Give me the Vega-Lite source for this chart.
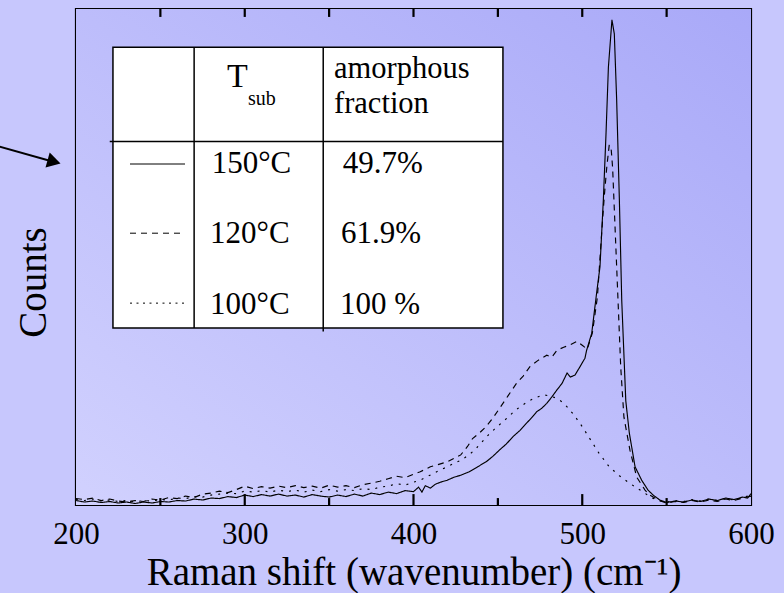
{
 "$schema": "https://vega.github.io/schema/vega-lite/v6.json",
 "width": 675,
 "height": 496,
 "autosize": {"type": "none"},
 "padding": {"left": 76, "top": 9, "right": 33, "bottom": 88},
 "background": "#c7c7fd",
 "view": {"stroke": "#000000", "strokeWidth": 2.2},
 "config": {"font": "Liberation Serif"},
 "datasets": {
  "one": [{}],
  "majorTicks": [{"at": 300}, {"at": 400}, {"at": 500}],
  "minorTicks": [{"at": 250}, {"at": 350}, {"at": 450}, {"at": 550}],
  "topTicks": [{"at": 250}, {"at": 300}, {"at": 350}, {"at": 400}, {"at": 450}, {"at": 500}, {"at": 550}],
  "spectra": [
   {"shift":200,"counts":0.9,"Tsub":"150°C"},{"shift":205,"counts":0.6,"Tsub":"150°C"},{"shift":210,"counts":0.8,"Tsub":"150°C"},{"shift":215,"counts":0.5,"Tsub":"150°C"},{"shift":220,"counts":0.7,"Tsub":"150°C"},{"shift":225,"counts":0.4,"Tsub":"150°C"},{"shift":230,"counts":0.6,"Tsub":"150°C"},{"shift":235,"counts":0.3,"Tsub":"150°C"},{"shift":240,"counts":0.6,"Tsub":"150°C"},{"shift":245,"counts":0.4,"Tsub":"150°C"},{"shift":250,"counts":0.7,"Tsub":"150°C"},{"shift":255,"counts":0.6,"Tsub":"150°C"},{"shift":260,"counts":0.9,"Tsub":"150°C"},{"shift":265,"counts":0.8,"Tsub":"150°C"},{"shift":270,"counts":1.2,"Tsub":"150°C"},{"shift":275,"counts":1.0,"Tsub":"150°C"},{"shift":280,"counts":1.4,"Tsub":"150°C"},{"shift":285,"counts":1.3,"Tsub":"150°C"},{"shift":290,"counts":1.7,"Tsub":"150°C"},{"shift":295,"counts":1.5,"Tsub":"150°C"},{"shift":300,"counts":2.0,"Tsub":"150°C"},{"shift":305,"counts":1.7,"Tsub":"150°C"},{"shift":310,"counts":2.1,"Tsub":"150°C"},{"shift":315,"counts":1.8,"Tsub":"150°C"},{"shift":320,"counts":2.2,"Tsub":"150°C"},{"shift":325,"counts":1.8,"Tsub":"150°C"},{"shift":330,"counts":2.0,"Tsub":"150°C"},{"shift":335,"counts":1.6,"Tsub":"150°C"},{"shift":340,"counts":2.1,"Tsub":"150°C"},{"shift":345,"counts":1.8,"Tsub":"150°C"},{"shift":350,"counts":1.6,"Tsub":"150°C"},{"shift":355,"counts":2.0,"Tsub":"150°C"},{"shift":360,"counts":1.7,"Tsub":"150°C"},{"shift":365,"counts":2.2,"Tsub":"150°C"},{"shift":370,"counts":1.8,"Tsub":"150°C"},{"shift":375,"counts":2.4,"Tsub":"150°C"},{"shift":380,"counts":2.1,"Tsub":"150°C"},{"shift":385,"counts":2.6,"Tsub":"150°C"},{"shift":390,"counts":2.3,"Tsub":"150°C"},{"shift":395,"counts":2.9,"Tsub":"150°C"},{"shift":400,"counts":2.7,"Tsub":"150°C"},{"shift":403,"counts":3.6,"Tsub":"150°C"},{"shift":405,"counts":2.6,"Tsub":"150°C"},{"shift":407,"counts":3.9,"Tsub":"150°C"},{"shift":410,"counts":3.4,"Tsub":"150°C"},{"shift":413,"counts":4.2,"Tsub":"150°C"},{"shift":416,"counts":4.6,"Tsub":"150°C"},{"shift":420,"counts":5.0,"Tsub":"150°C"},{"shift":424,"counts":5.6,"Tsub":"150°C"},{"shift":428,"counts":6.0,"Tsub":"150°C"},{"shift":433,"counts":6.7,"Tsub":"150°C"},{"shift":438,"counts":7.7,"Tsub":"150°C"},{"shift":443,"counts":8.7,"Tsub":"150°C"},{"shift":447,"counts":9.8,"Tsub":"150°C"},{"shift":451,"counts":11.1,"Tsub":"150°C"},{"shift":455,"counts":12.3,"Tsub":"150°C"},{"shift":459,"counts":13.8,"Tsub":"150°C"},{"shift":463,"counts":15.0,"Tsub":"150°C"},{"shift":467,"counts":16.5,"Tsub":"150°C"},{"shift":470,"counts":17.6,"Tsub":"150°C"},{"shift":473,"counts":18.8,"Tsub":"150°C"},{"shift":476,"counts":19.5,"Tsub":"150°C"},{"shift":479,"counts":20.5,"Tsub":"150°C"},{"shift":482,"counts":21.8,"Tsub":"150°C"},{"shift":485,"counts":23.2,"Tsub":"150°C"},{"shift":488,"counts":24.5,"Tsub":"150°C"},{"shift":491,"counts":26.6,"Tsub":"150°C"},{"shift":493,"counts":25.8,"Tsub":"150°C"},{"shift":495.7,"counts":26.2,"Tsub":"150°C"},{"shift":498.7,"counts":27.9,"Tsub":"150°C"},{"shift":501.6,"counts":29.6,"Tsub":"150°C"},{"shift":502.6,"counts":31.2,"Tsub":"150°C"},{"shift":505.6,"counts":34.6,"Tsub":"150°C"},{"shift":508.5,"counts":42.7,"Tsub":"150°C"},{"shift":510.5,"counts":48,"Tsub":"150°C"},{"shift":512.5,"counts":61.5,"Tsub":"150°C"},{"shift":514.1,"counts":75,"Tsub":"150°C"},{"shift":515.5,"counts":88.3,"Tsub":"150°C"},{"shift":517.6,"counts":97.8,"Tsub":"150°C"},{"shift":519,"counts":95,"Tsub":"150°C"},{"shift":520.4,"counts":81.6,"Tsub":"150°C"},{"shift":522,"counts":61.5,"Tsub":"150°C"},{"shift":523.4,"counts":41.3,"Tsub":"150°C"},{"shift":525.8,"counts":21,"Tsub":"150°C"},{"shift":527.9,"counts":14.5,"Tsub":"150°C"},{"shift":531.3,"counts":7.7,"Tsub":"150°C"},{"shift":535.2,"counts":5,"Tsub":"150°C"},{"shift":539,"counts":3,"Tsub":"150°C"},{"shift":542,"counts":2.0,"Tsub":"150°C"},{"shift":546,"counts":1.0,"Tsub":"150°C"},{"shift":550,"counts":0.5,"Tsub":"150°C"},{"shift":555,"counts":0.8,"Tsub":"150°C"},{"shift":560,"counts":0.6,"Tsub":"150°C"},{"shift":565,"counts":1.0,"Tsub":"150°C"},{"shift":570,"counts":0.7,"Tsub":"150°C"},{"shift":575,"counts":1.2,"Tsub":"150°C"},{"shift":580,"counts":0.9,"Tsub":"150°C"},{"shift":585,"counts":1.4,"Tsub":"150°C"},{"shift":590,"counts":1.1,"Tsub":"150°C"},{"shift":595,"counts":1.6,"Tsub":"150°C"},{"shift":598,"counts":1.4,"Tsub":"150°C"},{"shift":600,"counts":2.3,"Tsub":"150°C"},

   {"shift":200,"counts":1.3,"Tsub":"120°C"},{"shift":205,"counts":1.1,"Tsub":"120°C"},{"shift":210,"counts":1.4,"Tsub":"120°C"},{"shift":215,"counts":0.9,"Tsub":"120°C"},{"shift":220,"counts":1.2,"Tsub":"120°C"},{"shift":225,"counts":0.8,"Tsub":"120°C"},{"shift":230,"counts":0.6,"Tsub":"120°C"},{"shift":235,"counts":0.9,"Tsub":"120°C"},{"shift":240,"counts":0.7,"Tsub":"120°C"},{"shift":245,"counts":1.2,"Tsub":"120°C"},{"shift":250,"counts":1.0,"Tsub":"120°C"},{"shift":255,"counts":1.5,"Tsub":"120°C"},{"shift":260,"counts":1.3,"Tsub":"120°C"},{"shift":265,"counts":1.8,"Tsub":"120°C"},{"shift":270,"counts":1.5,"Tsub":"120°C"},{"shift":275,"counts":2.2,"Tsub":"120°C"},{"shift":280,"counts":2.4,"Tsub":"120°C"},{"shift":285,"counts":2.8,"Tsub":"120°C"},{"shift":290,"counts":2.5,"Tsub":"120°C"},{"shift":295,"counts":3.1,"Tsub":"120°C"},{"shift":300,"counts":3.8,"Tsub":"120°C"},{"shift":305,"counts":3.3,"Tsub":"120°C"},{"shift":310,"counts":3.7,"Tsub":"120°C"},{"shift":315,"counts":3.4,"Tsub":"120°C"},{"shift":320,"counts":3.8,"Tsub":"120°C"},{"shift":325,"counts":3.5,"Tsub":"120°C"},{"shift":330,"counts":3.9,"Tsub":"120°C"},{"shift":335,"counts":3.5,"Tsub":"120°C"},{"shift":340,"counts":3.8,"Tsub":"120°C"},{"shift":345,"counts":3.4,"Tsub":"120°C"},{"shift":350,"counts":4.0,"Tsub":"120°C"},{"shift":355,"counts":3.6,"Tsub":"120°C"},{"shift":360,"counts":3.9,"Tsub":"120°C"},{"shift":365,"counts":3.5,"Tsub":"120°C"},{"shift":370,"counts":4.1,"Tsub":"120°C"},{"shift":375,"counts":4.4,"Tsub":"120°C"},{"shift":380,"counts":4.8,"Tsub":"120°C"},{"shift":385,"counts":5.3,"Tsub":"120°C"},{"shift":390,"counts":5.8,"Tsub":"120°C"},{"shift":395,"counts":5.5,"Tsub":"120°C"},{"shift":400,"counts":6.2,"Tsub":"120°C"},{"shift":404,"counts":6.7,"Tsub":"120°C"},{"shift":410,"counts":7.7,"Tsub":"120°C"},{"shift":415,"counts":8.2,"Tsub":"120°C"},{"shift":420,"counts":8.7,"Tsub":"120°C"},{"shift":424,"counts":9.4,"Tsub":"120°C"},{"shift":428,"counts":10.1,"Tsub":"120°C"},{"shift":432,"counts":11.8,"Tsub":"120°C"},{"shift":435,"counts":13.4,"Tsub":"120°C"},{"shift":439,"counts":14.5,"Tsub":"120°C"},{"shift":443,"counts":15.8,"Tsub":"120°C"},{"shift":447,"counts":17.5,"Tsub":"120°C"},{"shift":451,"counts":19.5,"Tsub":"120°C"},{"shift":456,"counts":22.0,"Tsub":"120°C"},{"shift":461,"counts":24.5,"Tsub":"120°C"},{"shift":465,"counts":26.0,"Tsub":"120°C"},{"shift":469,"counts":27.9,"Tsub":"120°C"},{"shift":474,"counts":29.2,"Tsub":"120°C"},{"shift":479,"counts":30.2,"Tsub":"120°C"},{"shift":482,"counts":29.8,"Tsub":"120°C"},{"shift":485,"counts":31.2,"Tsub":"120°C"},{"shift":489,"counts":31.8,"Tsub":"120°C"},{"shift":493,"counts":32.3,"Tsub":"120°C"},{"shift":497,"counts":33.0,"Tsub":"120°C"},{"shift":500,"counts":32.2,"Tsub":"120°C"},{"shift":503,"counts":31.4,"Tsub":"120°C"},{"shift":506,"counts":34.7,"Tsub":"120°C"},{"shift":509,"counts":42.0,"Tsub":"120°C"},{"shift":511.5,"counts":54.8,"Tsub":"120°C"},{"shift":513,"counts":62,"Tsub":"120°C"},{"shift":514.5,"counts":68,"Tsub":"120°C"},{"shift":516,"counts":72.6,"Tsub":"120°C"},{"shift":517.2,"counts":71.5,"Tsub":"120°C"},{"shift":518,"counts":68,"Tsub":"120°C"},{"shift":520.4,"counts":48,"Tsub":"120°C"},{"shift":522.8,"counts":27.8,"Tsub":"120°C"},{"shift":524.7,"counts":17.7,"Tsub":"120°C"},{"shift":528.3,"counts":11,"Tsub":"120°C"},{"shift":532.3,"counts":5.6,"Tsub":"120°C"},{"shift":537.2,"counts":3,"Tsub":"120°C"},{"shift":540,"counts":2.0,"Tsub":"120°C"},{"shift":545,"counts":1.0,"Tsub":"120°C"},{"shift":550,"counts":0.4,"Tsub":"120°C"},{"shift":555,"counts":0.7,"Tsub":"120°C"},{"shift":560,"counts":0.5,"Tsub":"120°C"},{"shift":565,"counts":0.9,"Tsub":"120°C"},{"shift":570,"counts":0.6,"Tsub":"120°C"},{"shift":575,"counts":1.0,"Tsub":"120°C"},{"shift":580,"counts":0.7,"Tsub":"120°C"},{"shift":585,"counts":1.2,"Tsub":"120°C"},{"shift":590,"counts":0.9,"Tsub":"120°C"},{"shift":595,"counts":1.4,"Tsub":"120°C"},{"shift":600,"counts":1.8,"Tsub":"120°C"},

   {"shift":200,"counts":1.1,"Tsub":"100°C"},{"shift":205,"counts":0.9,"Tsub":"100°C"},{"shift":210,"counts":1.2,"Tsub":"100°C"},{"shift":215,"counts":0.8,"Tsub":"100°C"},{"shift":220,"counts":1.0,"Tsub":"100°C"},{"shift":225,"counts":0.7,"Tsub":"100°C"},{"shift":230,"counts":0.9,"Tsub":"100°C"},{"shift":235,"counts":0.6,"Tsub":"100°C"},{"shift":240,"counts":0.9,"Tsub":"100°C"},{"shift":245,"counts":0.8,"Tsub":"100°C"},{"shift":250,"counts":1.1,"Tsub":"100°C"},{"shift":255,"counts":1.0,"Tsub":"100°C"},{"shift":260,"counts":1.4,"Tsub":"100°C"},{"shift":265,"counts":1.3,"Tsub":"100°C"},{"shift":270,"counts":1.7,"Tsub":"100°C"},{"shift":275,"counts":1.6,"Tsub":"100°C"},{"shift":280,"counts":2.0,"Tsub":"100°C"},{"shift":285,"counts":2.2,"Tsub":"100°C"},{"shift":290,"counts":2.4,"Tsub":"100°C"},{"shift":295,"counts":2.3,"Tsub":"100°C"},{"shift":300,"counts":2.8,"Tsub":"100°C"},{"shift":305,"counts":2.6,"Tsub":"100°C"},{"shift":310,"counts":2.9,"Tsub":"100°C"},{"shift":315,"counts":2.6,"Tsub":"100°C"},{"shift":320,"counts":3.0,"Tsub":"100°C"},{"shift":325,"counts":2.7,"Tsub":"100°C"},{"shift":330,"counts":3.0,"Tsub":"100°C"},{"shift":335,"counts":2.6,"Tsub":"100°C"},{"shift":340,"counts":3.0,"Tsub":"100°C"},{"shift":345,"counts":2.7,"Tsub":"100°C"},{"shift":350,"counts":3.1,"Tsub":"100°C"},{"shift":355,"counts":2.8,"Tsub":"100°C"},{"shift":360,"counts":3.1,"Tsub":"100°C"},{"shift":365,"counts":2.9,"Tsub":"100°C"},{"shift":370,"counts":3.3,"Tsub":"100°C"},{"shift":375,"counts":3.1,"Tsub":"100°C"},{"shift":380,"counts":3.6,"Tsub":"100°C"},{"shift":385,"counts":3.8,"Tsub":"100°C"},{"shift":390,"counts":4.3,"Tsub":"100°C"},{"shift":395,"counts":4.0,"Tsub":"100°C"},{"shift":400,"counts":4.6,"Tsub":"100°C"},{"shift":404,"counts":5.0,"Tsub":"100°C"},{"shift":408,"counts":5.7,"Tsub":"100°C"},{"shift":412,"counts":6.4,"Tsub":"100°C"},{"shift":416,"counts":7.1,"Tsub":"100°C"},{"shift":420,"counts":7.7,"Tsub":"100°C"},{"shift":424,"counts":8.4,"Tsub":"100°C"},{"shift":428,"counts":9.0,"Tsub":"100°C"},{"shift":432,"counts":9.9,"Tsub":"100°C"},{"shift":436,"counts":11.0,"Tsub":"100°C"},{"shift":440,"counts":12.5,"Tsub":"100°C"},{"shift":444,"counts":14.0,"Tsub":"100°C"},{"shift":448,"counts":15.3,"Tsub":"100°C"},{"shift":452,"counts":16.5,"Tsub":"100°C"},{"shift":456,"counts":17.7,"Tsub":"100°C"},{"shift":460,"counts":19.0,"Tsub":"100°C"},{"shift":464,"counts":20.0,"Tsub":"100°C"},{"shift":468,"counts":20.9,"Tsub":"100°C"},{"shift":472,"counts":21.6,"Tsub":"100°C"},{"shift":477,"counts":22.2,"Tsub":"100°C"},{"shift":481,"counts":22.0,"Tsub":"100°C"},{"shift":485,"counts":21.5,"Tsub":"100°C"},{"shift":488,"counts":20.8,"Tsub":"100°C"},{"shift":491,"counts":19.8,"Tsub":"100°C"},{"shift":495,"counts":18.2,"Tsub":"100°C"},{"shift":500,"counts":15.8,"Tsub":"100°C"},{"shift":505,"counts":13.1,"Tsub":"100°C"},{"shift":510,"counts":10.4,"Tsub":"100°C"},{"shift":516,"counts":7.7,"Tsub":"100°C"},{"shift":522,"counts":5.9,"Tsub":"100°C"},{"shift":528,"counts":4.4,"Tsub":"100°C"},{"shift":533,"counts":3.3,"Tsub":"100°C"},{"shift":537,"counts":2.4,"Tsub":"100°C"},{"shift":541,"counts":1.5,"Tsub":"100°C"},{"shift":545,"counts":0.9,"Tsub":"100°C"},{"shift":550,"counts":0.6,"Tsub":"100°C"},{"shift":555,"counts":0.9,"Tsub":"100°C"},{"shift":560,"counts":0.7,"Tsub":"100°C"},{"shift":565,"counts":1.1,"Tsub":"100°C"},{"shift":570,"counts":0.8,"Tsub":"100°C"},{"shift":575,"counts":1.2,"Tsub":"100°C"},{"shift":580,"counts":0.9,"Tsub":"100°C"},{"shift":585,"counts":1.3,"Tsub":"100°C"},{"shift":590,"counts":1.0,"Tsub":"100°C"},{"shift":595,"counts":1.5,"Tsub":"100°C"},{"shift":600,"counts":2.0,"Tsub":"100°C"}
  ]
 },
 "layer": [
  {
   "data": {"name": "one"},
   "mark": {"type": "rect", "fill": {"gradient": "linear", "x1": 1, "y1": 0, "x2": 0, "y2": 1, "stops": [{"offset": 0, "color": "#a9a9f8"}, {"offset": 1, "color": "#d1d1fe"}]}},
   "encoding": {
    "x": {"datum": 200, "type": "quantitative", "scale": {"domain": [200, 600], "nice": false, "zero": false},
     "axis": {"orient": "bottom", "values": [200, 300, 400, 500, 600], "grid": false, "ticks": false, "domain": false,
      "labelFont": "Liberation Serif", "labelFontSize": 31, "labelColor": "#000000", "labelPadding": 14, "labelFlush": false,
      "title": "Raman shift (wavenumber) (cm⁻¹)", "titleFont": "Liberation Serif", "titleFontSize": 39, "titleFontWeight": "normal", "titleColor": "#000000", "titleBaseline": "alphabetic", "titleY": 79}},
    "x2": {"datum": 600},
    "y": {"datum": 0, "type": "quantitative", "scale": {"domain": [0, 100], "nice": false},
     "axis": {"title": "Counts", "grid": false, "ticks": false, "labels": false, "domain": false, "titleFont": "Liberation Serif", "titleFontSize": 39, "titleFontWeight": "normal", "titleColor": "#000000", "titleX": -43, "titleY": 273, "titleAngle": -90, "titleAlign": "center", "titleBaseline": "middle"}},
    "y2": {"datum": 100}
   }
  },
  {
   "data": {"name": "spectra"},
   "mark": {"type": "line", "color": "#000000", "strokeWidth": 1.15},
   "encoding": {
    "x": {"field": "shift", "type": "quantitative"},
    "y": {"field": "counts", "type": "quantitative"},
    "strokeDash": {"field": "Tsub", "type": "nominal", "scale": {"domain": ["150°C", "120°C", "100°C"], "range": [[1, 0], [6, 5], [2, 6]]}, "legend": null}
   }
  },
  {"data": {"name": "majorTicks"}, "mark": {"type": "rule", "color": "#000000", "strokeWidth": 2.2}, "encoding": {"x": {"field": "at", "type": "quantitative"}, "y": {"datum": 0, "type": "quantitative"}, "y2": {"datum": 2.2}}},
  {"data": {"name": "minorTicks"}, "mark": {"type": "rule", "color": "#000000", "strokeWidth": 2.2}, "encoding": {"x": {"field": "at", "type": "quantitative"}, "y": {"datum": 0, "type": "quantitative"}, "y2": {"datum": 1.4}}},
  {"data": {"name": "topTicks"}, "mark": {"type": "rule", "color": "#000000", "strokeWidth": 2.2}, "encoding": {"x": {"field": "at", "type": "quantitative"}, "y": {"datum": 100, "type": "quantitative"}, "y2": {"datum": 98.4}}},
  {
   "data": {"name": "one"},
   "mark": {"type": "rect", "fill": "#ffffff", "stroke": "#000000", "strokeWidth": 1.5},
   "encoding": {
    "x": {"datum": 221.9, "type": "quantitative"},
    "x2": {"datum": 453},
    "y": {"datum": 35.7, "type": "quantitative"},
    "y2": {"datum": 92.3}
   }
  },
  {"data": {"name": "one"}, "mark": {"type": "rule", "color": "#000000", "strokeWidth": 1.5}, "encoding": {"x": {"datum": 270, "type": "quantitative"}, "y": {"datum": 35.7, "type": "quantitative"}, "y2": {"datum": 92.3}}},
  {"data": {"name": "one"}, "mark": {"type": "rule", "color": "#000000", "strokeWidth": 1.5}, "encoding": {"x": {"datum": 346.5, "type": "quantitative"}, "y": {"datum": 35.0, "type": "quantitative"}, "y2": {"datum": 92.3}}},
  {"data": {"name": "one"}, "mark": {"type": "rule", "color": "#000000", "strokeWidth": 1.5}, "encoding": {"x": {"datum": 220, "type": "quantitative"}, "x2": {"datum": 453}, "y": {"datum": 73.3, "type": "quantitative"}}},
  {"data": {"name": "one"}, "mark": {"type": "rule", "color": "#000000", "strokeWidth": 1}, "encoding": {"x": {"datum": 232, "type": "quantitative"}, "x2": {"datum": 264.6}, "y": {"datum": 68.75, "type": "quantitative"}}},
  {"data": {"name": "one"}, "mark": {"type": "rule", "color": "#000000", "strokeWidth": 1, "strokeDash": [6, 5]}, "encoding": {"x": {"datum": 232, "type": "quantitative"}, "x2": {"datum": 264.6}, "y": {"datum": 54.8, "type": "quantitative"}}},
  {"data": {"name": "one"}, "mark": {"type": "rule", "color": "#000000", "strokeWidth": 1, "strokeDash": [2, 4.5]}, "encoding": {"x": {"datum": 232, "type": "quantitative"}, "x2": {"datum": 264.6}, "y": {"datum": 40.7, "type": "quantitative"}}},
  {"data": {"name": "one"}, "mark": {"type": "text", "font": "Liberation Serif", "fontSize": 34, "align": "center", "baseline": "alphabetic", "color": "#000000", "text": "T"}, "encoding": {"x": {"datum": 295.7, "type": "quantitative"}, "y": {"datum": 84.3, "type": "quantitative"}}},
  {"data": {"name": "one"}, "mark": {"type": "text", "font": "Liberation Serif", "fontSize": 20, "align": "center", "baseline": "alphabetic", "color": "#000000", "text": "sub"}, "encoding": {"x": {"datum": 310.2, "type": "quantitative"}, "y": {"datum": 80.6, "type": "quantitative"}}},
  {"data": {"name": "one"}, "mark": {"type": "text", "font": "Liberation Serif", "fontSize": 30.5, "align": "left", "baseline": "alphabetic", "color": "#000000", "text": "amorphous"}, "encoding": {"x": {"datum": 352.9, "type": "quantitative"}, "y": {"datum": 86.1, "type": "quantitative"}}},
  {"data": {"name": "one"}, "mark": {"type": "text", "font": "Liberation Serif", "fontSize": 30.5, "align": "left", "baseline": "alphabetic", "color": "#000000", "text": "fraction"}, "encoding": {"x": {"datum": 352.9, "type": "quantitative"}, "y": {"datum": 79, "type": "quantitative"}}},
  {"data": {"name": "one"}, "mark": {"type": "text", "font": "Liberation Serif", "fontSize": 31, "align": "left", "baseline": "alphabetic", "color": "#000000", "text": "150°C"}, "encoding": {"x": {"datum": 280.4, "type": "quantitative"}, "y": {"datum": 66.9, "type": "quantitative"}}},
  {"data": {"name": "one"}, "mark": {"type": "text", "font": "Liberation Serif", "fontSize": 31, "align": "left", "baseline": "alphabetic", "color": "#000000", "text": "120°C"}, "encoding": {"x": {"datum": 279.4, "type": "quantitative"}, "y": {"datum": 52.8, "type": "quantitative"}}},
  {"data": {"name": "one"}, "mark": {"type": "text", "font": "Liberation Serif", "fontSize": 31, "align": "left", "baseline": "alphabetic", "color": "#000000", "text": "100°C"}, "encoding": {"x": {"datum": 279.4, "type": "quantitative"}, "y": {"datum": 38.6, "type": "quantitative"}}},
  {"data": {"name": "one"}, "mark": {"type": "text", "font": "Liberation Serif", "fontSize": 31, "align": "left", "baseline": "alphabetic", "color": "#000000", "text": "49.7%"}, "encoding": {"x": {"datum": 358, "type": "quantitative"}, "y": {"datum": 66.9, "type": "quantitative"}}},
  {"data": {"name": "one"}, "mark": {"type": "text", "font": "Liberation Serif", "fontSize": 31, "align": "left", "baseline": "alphabetic", "color": "#000000", "text": "61.9%"}, "encoding": {"x": {"datum": 357, "type": "quantitative"}, "y": {"datum": 52.8, "type": "quantitative"}}},
  {"data": {"name": "one"}, "mark": {"type": "text", "font": "Liberation Serif", "fontSize": 31, "align": "left", "baseline": "alphabetic", "color": "#000000", "text": "100 %"}, "encoding": {"x": {"datum": 356.4, "type": "quantitative"}, "y": {"datum": 38.6, "type": "quantitative"}}},
  {"data": {"name": "one"}, "mark": {"type": "rule", "color": "#000000", "strokeWidth": 2}, "encoding": {"x": {"datum": 149, "type": "quantitative"}, "x2": {"datum": 187.6}, "y": {"datum": 72.8, "type": "quantitative"}, "y2": {"datum": 69.1}}},
  {"data": {"name": "one"}, "mark": {"type": "point", "shape": "triangle-right", "filled": true, "color": "#000000", "opacity": 1, "size": 240, "angle": 15.7}, "encoding": {"x": {"datum": 187, "type": "quantitative"}, "y": {"datum": 69.2, "type": "quantitative"}}}
 ]
}
